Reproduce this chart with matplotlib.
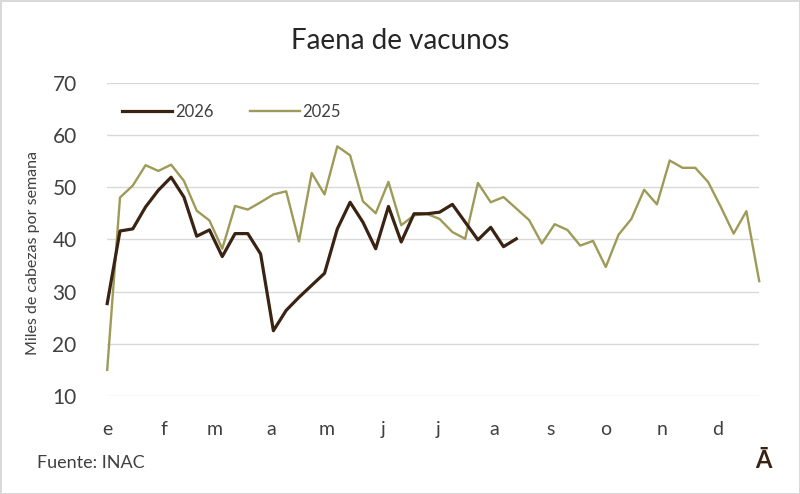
import numpy as np
import matplotlib
matplotlib.use("Agg")
import matplotlib.pyplot as plt

plt.rcParams['font.family'] = ['Lato', 'DejaVu Sans']

# semanas (miles de cabezas)
faena_2025 = [15.0, 48.0, 50.3, 54.2, 53.1, 54.3, 51.2, 45.5, 43.6, 38.2,
              46.4, 45.7, 47.1, 48.6, 49.2, 39.6, 52.7, 48.6, 57.8, 56.1,
              47.3, 45.0, 51.0, 42.7, 44.6, 44.9, 43.9, 41.4, 40.1, 50.8,
              47.1, 48.1, 45.9, 43.7, 39.2, 42.9, 41.8, 38.8, 39.7, 34.7,
              40.9, 43.9, 49.5, 46.7, 55.1, 53.7, 53.7, 51.0, 46.2, 41.1,
              45.4, 32.0]
faena_2026 = [27.7, 41.6, 42.0, 46.2, 49.4, 51.9, 48.1, 40.6, 41.8, 36.7,
              41.1, 41.1, 37.2, 22.5, 26.4, 28.9, 31.2, 33.5, 42.0, 47.1,
              43.3, 38.2, 46.3, 39.5, 44.9, 44.9, 45.2, 46.7, 43.3, 39.9,
              42.3, 38.6, 40.1]
month_labels = ['e', 'f', 'm', 'a', 'm', 'j', 'j', 'a', 's', 'o', 'n', 'd']
month_start_day = [0, 31, 59, 90, 120, 151, 181, 212, 243, 273, 304, 334]

c2026 = '#3b2314'
c2025 = '#9e9a58'
txt = '#404040'

fig = plt.figure(figsize=(8, 4.94), dpi=100)
fig.patch.set_facecolor('white')
fig.patch.set_edgecolor('#d9d9d9')
fig.patch.set_linewidth(2)

ax = fig.add_axes([0.134, 0.1984, 0.815, 0.6342])

ax.plot(np.arange(len(faena_2026)), faena_2026, color=c2026, lw=2.3,
        label='2026', zorder=3, clip_on=False)
ax.plot(np.arange(len(faena_2025)), faena_2025, color=c2025, lw=1.7,
        label='2025', zorder=2, clip_on=False)

ax.set_xlim(0, 51)
ax.set_ylim(10, 70)
ax.set_yticks(range(10, 71, 10))
ax.grid(axis='y', color='#d9d9d9', lw=1)
ax.set_axisbelow(True)
for s in ax.spines.values():
    s.set_visible(False)

ax.set_xticks(np.array(month_start_day) / 7)
ax.set_xticklabels(month_labels)
ax.tick_params(axis='both', length=0, colors=txt)
ax.tick_params(axis='y', labelsize=15, pad=22)
ax.tick_params(axis='x', labelsize=14, pad=18)

ax.set_ylabel('Miles de cabezas por semana', fontsize=11.5, color=txt)
ax.yaxis.set_label_coords(-0.103, 0.456)

ax.legend(loc='upper left', bbox_to_anchor=(0.0, 0.98), ncol=2, frameon=False,
          fontsize=12, handlelength=3.0, handletextpad=0.15, columnspacing=2.2,
          labelcolor=txt)

fig.text(0.5, 0.918, 'Faena de vacunos', ha='center', va='center',
         fontsize=20, color='#262626')
fig.text(0.046, 0.062, 'Fuente: INAC', ha='left', va='center',
         fontsize=13, color=txt)
fig.text(0.954, 0.068, 'Ā', ha='center', va='center', fontsize=17,
         fontweight='bold', color=c2026)

fig.savefig('out.png', dpi=100)
